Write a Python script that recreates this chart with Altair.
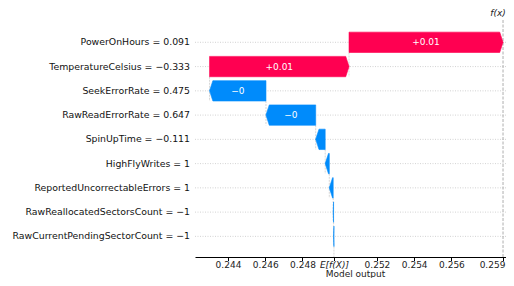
import altair as alt
import pandas as pd

# ---- data (top row first) ----
features = [
    "PowerOnHours = 0.091",
    "TemperatureCelsius = \u22120.333",
    "SeekErrorRate = 0.475",
    "RawReadErrorRate = 0.647",
    "SpinUpTime = \u22120.111",
    "HighFlyWrites = 1",
    "ReportedUncorrectableErrors = 1",
    "RawReallocatedSectorsCount = \u22121",
    "RawCurrentPendingSectorCount = \u22121",
]
shap_values = [0.00827, 0.00749, -0.00303, -0.00267, -0.00051, -0.00022, -0.00021, -0.00002, -0.00002]
bar_labels = ["+0.01", "+0.01", "\u22120", "\u22120", "", "", "", "", ""]
base_value = 0.24969
x_ticks = [0.244, 0.246, 0.248, 0.252, 0.254, 0.256]

RED = "#ff0051"
BLUE = "#008bfb"
FONT = "DejaVu Sans"
W, H = 311, 237

n = len(features)
x_min, x_max = 0.242228, 0.25893
y_min, y_max = -0.85, 8.92
half = 0.42
head = (x_max - x_min) * 3.3 / W

fx = base_value + sum(shap_values)

# build waterfall geometry from the bottom row upward
area_rows, text_rows, conn_rows, row_rows = [], [], [], []
cum = base_value
for i in range(n - 1, -1, -1):
    row = n - 1 - i
    v = shap_values[i]
    s, e = cum, cum + v
    sign = "pos" if v > 0 else "neg"
    h = min(head, abs(v))
    d = 1 if v > 0 else -1
    pts = [(s, row + half, row - half)]
    if abs(v) > h + 1e-12:
        pts.append((e - d * h, row + half, row - half))
    pts.append((e, row, row))
    for (px, py, py2) in pts:
        area_rows.append({"feat": row, "x": px, "y": py, "y2": py2, "sign": sign})
    if bar_labels[i]:
        text_rows.append({"x": (s + e) / 2, "y": row, "t": bar_labels[i]})
    conn_rows.append({"x": s, "y": row - half, "y2": max(y_min, row - 1 - half)})
    row_rows.append({"y": row, "name": features[i]})
    cum = e

x_vals = x_ticks + [base_value, fx]
is_base = f"abs(datum.value - {base_value}) < 1e-7"
is_fx = f"abs(datum.value - {fx}) < 1e-7"
x_label_expr = f"{is_base} ? 'E[f(X)]' : format(datum.value, '.3f')"

xs = alt.Scale(domain=[x_min, x_max], nice=False, zero=False)
ys = alt.Scale(domain=[y_min, y_max], nice=False, zero=False)
col = alt.Scale(domain=["pos", "neg"], range=[RED, BLUE])

x_axis = alt.Axis(
    values=x_vals, labelExpr=x_label_expr, grid=False, labelFlush=False,
    labelOverlap=False, labelBound=False,
    domainColor="#000", domainWidth=1.2, tickColor="#000", tickSize=3.5,
    labelFont=FONT, labelFontSize=9, labelColor="#222", labelPadding=0,
    title="Model output", titleFont=FONT, titleFontSize=9, titleFontWeight="normal",
    titleColor="#222", titlePadding=-0.5, titleX=160,
    labelFontStyle={"condition": {"test": is_base, "value": "italic"}, "value": "normal"},
    labelOffset={"condition": {"test": is_fx, "value": -11}, "value": 0},
)

rows_df = pd.DataFrame(row_rows)

grid = alt.Chart(rows_df).mark_rule(
    color="#c8c8c8", strokeWidth=0.8, strokeDash=[1, 1.5]
).encode(
    y=alt.Y("y:Q", scale=ys, axis=None),
    x=alt.value(0), x2=alt.value(W),
)

ylabels = alt.Chart(rows_df).mark_text(
    align="right", baseline="middle", font=FONT, fontSize=9.35, color="#111", dx=-5
).encode(
    y=alt.Y("y:Q", scale=ys, axis=None),
    x=alt.value(0),
    text="name:N",
)

conn = alt.Chart(pd.DataFrame(conn_rows)).mark_rule(
    color="#bbbbbb", strokeWidth=0.6, strokeDash=[2, 1]
).encode(
    x=alt.X("x:Q", scale=xs, axis=x_axis),
    y=alt.Y("y:Q", scale=ys, axis=None),
    y2="y2:Q",
)

fx_line = alt.Chart(pd.DataFrame({"x": [fx]})).mark_rule(
    color="#999999", strokeWidth=0.8, strokeDash=[3, 1.5]
).encode(x=alt.X("x:Q", scale=xs), y=alt.value(0), y2=alt.value(H))

bars = alt.Chart(pd.DataFrame(area_rows)).mark_area(
    orient="vertical", strokeWidth=0.6, opacity=1
).encode(
    x=alt.X("x:Q", scale=xs),
    y=alt.Y("y:Q", scale=ys, axis=None),
    y2="y2:Q",
    detail="feat:N",
    fill=alt.Fill("sign:N", scale=col, legend=None),
    stroke=alt.Stroke("sign:N", scale=col, legend=None),
)

texts = alt.Chart(pd.DataFrame(text_rows)).mark_text(
    color="white", fontSize=9, font=FONT, baseline="middle", align="center"
).encode(x=alt.X("x:Q", scale=xs), y=alt.Y("y:Q", scale=ys, axis=None), text="t:N")

fx_text = alt.Chart(pd.DataFrame({"x": [fx], "t": ["f(x)"]})).mark_text(
    color="#222", fontSize=9, font=FONT, fontStyle="italic", baseline="middle",
    align="center", dx=-5
).encode(x=alt.X("x:Q", scale=xs), y=alt.value(-7.5), text="t:N")

chart = alt.layer(grid, conn, fx_line, bars, texts, ylabels, fx_text).properties(
    width=W, height=H,
    autosize=alt.AutoSizeParams(type="none"),
    padding={"left": 187, "top": 12, "right": 0, "bottom": 21},
).configure_view(stroke=None)

chart.save("out.html", embed_options={"renderer": "svg", "actions": False})
